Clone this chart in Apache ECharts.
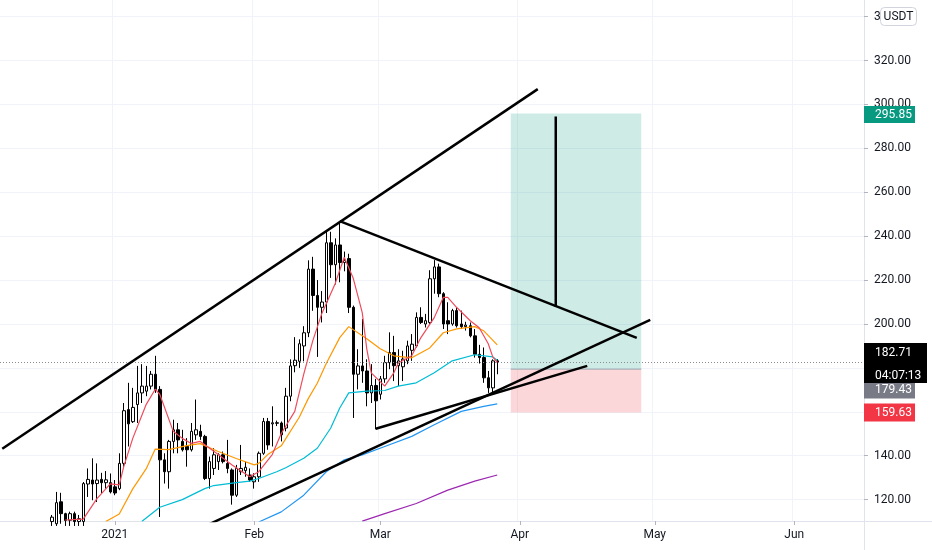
<!DOCTYPE html>
<html>
<head>
<meta charset="utf-8">
<script src="https://cdn.jsdelivr.net/npm/echarts@6/dist/echarts.min.js"></script>
<style>
html,body{margin:0;padding:0;background:#ffffff;}
#chart{width:932px;height:550px;}
</style>
</head>
<body>
<div id="chart"></div>
<script>
// ---------- DATA ----------
const firstDay = [2020, 11, 7];      // Dec 7, 2020 (first category)
const dayCount = 192;                 // daily categories on the time axis
const monthNames = ['Jan','Feb','Mar','Apr','May','Jun','Jul','Aug','Sep','Oct','Nov','Dec'];
const yTicks = [120,140,160,180,200,220,240,260,280,300,320,340];
const yRange = [110.25, 347.6];

// daily candles [open, close, low, high], first one on candleStart
const candleStart = '2020-12-18';
const ohlc = [
  [110,112,108,113],[109,118.6,108,123.5],[119,113.6,109,123.1],[113.6,110.5,108,114],
  [110.6,113.6,108,114.5],[113.6,110,108,114.5],[110,111.3,108,113],[110,127.3,108,128],
  [127.1,129.2,121.2,134.2],[128.9,127.1,119.7,138.8],[127.3,128.9,118.9,136.5],[129.2,127.7,122.8,132.2],
  [127.7,129.0,125,133],[127.7,123.5,122.8,131.9],[125.8,123,122,128.9],[125.0,136.5,124.3,141.1],
  [136.5,160.5,135,164.0],[161.0,154.5,144.2,173.2],[155.5,162,154.9,170.9],[163.3,168.6,154.9,180.9],
  [168.6,171.7,164.0,181.7],[169.4,171.7,167.1,180.9],[171.7,177.1,170.2,178.6],[177.1,170.2,168.6,185.5],
  [170.2,138.1,112.1,171.7],[138.1,132.7,127.3,141.1],[132.7,146.5,125.0,147.2],[146.5,151.8,141.1,156.4],
  [151.8,147.2,141.1,154.9],[146.5,142.7,141.9,151.8],[144.2,142.7,135.0,148.0],[142.7,151.1,141.9,154.9],
  [149.5,151.8,147.2,165.6],[151.1,148.8,147.2,154.1],[148.8,129.6,128.9,149.5],[129.6,137.3,125.0,139.6],
  [134.2,140.4,131.2,143.4],[137.3,140.4,133.5,141.1],[140.4,137.3,136.5,141.9],[136.5,134.2,132.0,147.2],
  [133.5,122.0,117.7,134.2],[122.0,134.2,121.2,135.8],[132.7,134.2,131.2,144.9],[133.2,134.7,130.4,137.3],
  [131.2,128.9,128.1,134.2],[128.1,130.4,125.0,132.0],[130.4,141.1,128.1,141.9],[141.1,155.6,140.4,157.2],
  [155.6,144.9,142.7,157.2],[154.5,155.0,144.2,162.5],[155,154.8,153.5,156],[154.9,149.5,146.5,155.6],
  [152.6,167.1,151.1,170.9],[167.1,180.9,164.8,183.9],[181,183.5,178,194],[183,191,180,193],
  [190,196,183,199],[196,225,194,229],[225,213,206,230.6],[213,207.6,185,220],
  [207.6,210,200.7,215],[210,237,205,242],[237,227,221,242],[227,236,218,239],
  [236,228,219,246.3],[228,229,224,233],[229.8,207.6,205,232],[207.6,177.1,157.2,208.4],
  [177.1,180.9,170.2,188.5],[180.9,178.6,173.2,202.3],[178.6,168.6,162.5,183.9],[168.6,172,164,181.7],
  [172,165,152,175],[168,175,165.6,176.3],[175,182.4,173.2,185.5],[182.4,187,179.4,196.2],
  [187,181,174,194.6],[181,183.2,171.7,188.5],[180.5,184,174,187.8],[183.2,190,181.7,192.4],
  [188,190.8,183.2,195.4],[190,203,189.3,205.3],[203,200.7,200,207.6],[200,201.5,198.4,204.6],
  [200.7,220.6,200,224.5],[220.6,226,213.8,229.1],[226,213.8,212.2,227.5],[213.8,200,197.7,214.5],
  [201.5,200,195.4,209.9],[200,206.1,199.2,206.9],[206.1,199.2,198.4,207.6],[200,198.8,197.7,206.1],
  [198.8,199.5,197,201],[199.2,194.6,193.9,200.7],[194.6,186.2,184.7,197.7],[186.2,184.7,182,190.5],
  [184.7,175.5,173.2,189.3],[175.5,170.9,168.6,178.6],[170.9,183.2,168.6,183.9],[183.2,182.71,177.1,184]
];

// moving averages: [date, value]
const maRed = [
  ['2020-12-21',110.7],['2020-12-25',111.1],['2020-12-28',120.3],['2020-12-31',127.2],['2021-01-02',126.7],
  ['2021-01-03',135.0],['2021-01-05',147.9],['2021-01-08',163.4],['2021-01-10',170.3],['2021-01-11',168.0],
  ['2021-01-14',151.1],['2021-01-16',147.9],['2021-01-18',145.6],['2021-01-20',146.5],['2021-01-24',140.5],
  ['2021-01-27',135.9],['2021-01-31',130.4],['2021-02-02',132.7],['2021-02-05',140.5],['2021-02-07',150.1],
  ['2021-02-10',160.2],['2021-02-12',177.2],['2021-02-14',192.3],['2021-02-16',204.7],['2021-02-19',218.5],
  ['2021-02-20',224.5],['2021-02-21',230.4],['2021-02-23',220.8],['2021-02-25',205.2],['2021-02-26',188.7],
  ['2021-02-27',177.7],['2021-03-02',171.7],['2021-03-04',177.7],['2021-03-05',182.2],['2021-03-08',185.5],
  ['2021-03-10',193.7],['2021-03-13',202.9],['2021-03-15',212.1],['2021-03-16',212.1],['2021-03-18',207.5],
  ['2021-03-21',201.5],['2021-03-23',198.3],['2021-03-25',191.0],['2021-03-26',185.0],['2021-03-27',182.5]
];
const maOrange = [
  ['2020-12-30',110],['2021-01-02',113.4],['2021-01-05',124.9],['2021-01-08',134.1],['2021-01-10',143.0],
  ['2021-01-13',142.8],['2021-01-17',144.6],['2021-01-20',145.5],['2021-01-24',141.9],['2021-01-28',138.7],
  ['2021-02-01',135.8],['2021-02-02',136.5],['2021-02-04',140.5],['2021-02-07',144.5],['2021-02-11',157.5],
  ['2021-02-13',166],['2021-02-15',173],['2021-02-17',182],['2021-02-20',193.8],['2021-02-22',198.8],
  ['2021-02-26',193.3],['2021-03-01',188.7],['2021-03-04',185.5],['2021-03-08',184.6],['2021-03-12',189.1],
  ['2021-03-15',196.0],['2021-03-18',197.8],['2021-03-22',198.8],['2021-03-24',196.9],['2021-03-27',190.5]
];
const maCyan = [
  ['2021-01-07',110],['2021-01-11',116.5],['2021-01-16',120],['2021-01-21',125],['2021-01-23',126.4],
  ['2021-01-28',127.7],['2021-01-31',128.4],['2021-02-02',129.6],['2021-02-06',132.7],['2021-02-08',134.5],
  ['2021-02-12',138.8],['2021-02-15',143.4],['2021-02-18',152.6],['2021-02-20',161.7],['2021-02-22',168.6],
  ['2021-02-26',169.4],['2021-03-02',169.7],['2021-03-05',171.7],['2021-03-09',173.2],['2021-03-13',177.8],
  ['2021-03-17',183.2],['2021-03-22',186.0],['2021-03-26',185.0],['2021-03-27',183.5]
];
const maBlue = [
  ['2021-02-02',109.8],['2021-02-07',114.4],['2021-02-12',122.0],['2021-02-17',132.7],['2021-02-21',138.1],
  ['2021-02-25',140.4],['2021-03-02',144.2],['2021-03-08',148.8],['2021-03-13',154.1],['2021-03-19',160.2],
  ['2021-03-24',162.5],['2021-03-27',163.6]
];
const maPurple = [
  ['2021-02-25',110.2],['2021-03-02',113.6],['2021-03-09',118.2],['2021-03-16',124.3],['2021-03-22',128.4],
  ['2021-03-27',131.2]
];

// hand-drawn trend lines: two end points each
const trendLines = [
  [['2020-12-07',143.2],['2021-04-05',307.0]],
  [['2021-02-20',246.9],['2021-04-27',193.7]],
  [['2021-01-22',108.8],['2021-04-30',201.9]],
  [['2021-02-28',152.3],['2021-04-16',180.9]],
  [['2021-04-09',294.5],['2021-04-09',207.9]]
];

// long position tool
const posFrom = '2021-03-30';
const posTo = '2021-04-28';
const posTarget = 295.85;
const posEntry = 179.43;
const posStop = 159.63;
const lastPrice = 182.71;
const countdown = '04:07:13';
const quote = 'USDT';

// ---------- BUILD ----------
function buildCategories() {
  const out = [];
  const t0 = Date.UTC(firstDay[0], firstDay[1], firstDay[2]);
  for (let i = 0; i < dayCount; i++) {
    out.push(new Date(t0 + i * 86400000).toISOString().slice(0, 10));
  }
  return out;
}
const categories = buildCategories();
const s0 = categories.indexOf(candleStart);
const candleData = ohlc.map((r, k) => [categories[s0 + k], r[0], r[1], r[2], r[3]]);

const isMonthStart = (idx, val) => val.slice(8) === '01';
const FONT = 'Roboto, "Open Sans", sans-serif';
const TXT = '#131722';
const GRIDC = '#f0f3fa';
const AXC = '#e0e3eb';

function maSeries(data, color) {
  return {
    type: 'line', data: data, symbol: 'none', showSymbol: false, smooth: false,
    lineStyle: { color: color, width: 1.2 }, z: 3, silent: true
  };
}

const series = [
  {
    type: 'candlestick',
    data: candleData,
    encode: { x: 0, y: [1, 2, 3, 4] },
    barWidth: 3,
    itemStyle: { color: '#ffffff', color0: '#000000', borderColor: '#000000', borderColor0: '#000000', borderWidth: 1 },
    z: 2,
    markLine: {
      silent: true, symbol: ['none', 'none'], label: { show: false },
      lineStyle: { color: '#8a8d96', type: [1, 2], width: 1 },
      data: [{ yAxis: lastPrice }]
    }
  },
  maSeries(maPurple, '#9c27b0'),
  maSeries(maBlue, '#2196f3'),
  maSeries(maCyan, '#00bcd4'),
  maSeries(maOrange, '#ff9800'),
  maSeries(maRed, '#f04b5c'),
  {
    type: 'line', symbol: 'none', silent: true, z: 1,
    data: [[posFrom, posEntry], [posTo, posEntry]],
    lineStyle: { color: '#a3a6af', width: 1 },
    markArea: {
      silent: true,
      data: [
        [{ xAxis: posFrom, yAxis: posEntry, itemStyle: { color: 'rgba(8,153,129,0.2)' } }, { xAxis: posTo, yAxis: posTarget }],
        [{ xAxis: posFrom, yAxis: posStop, itemStyle: { color: 'rgba(242,54,69,0.2)' } }, { xAxis: posTo, yAxis: posEntry }]
      ]
    }
  }
];
trendLines.forEach(seg => {
  series.push({
    type: 'line', data: seg, symbol: 'none', silent: true, z: 5,
    lineStyle: { color: '#000000', width: 2.5 }
  });
});

const chart = echarts.init(document.getElementById('chart'), null, { renderer: 'canvas' });
chart.setOption({
  animation: false,
  backgroundColor: '#ffffff',
  textStyle: { fontFamily: FONT },
  grid: { left: 0, right: 68, top: 0, bottom: 29, containLabel: false },
  xAxis: {
    type: 'category',
    data: categories,
    boundaryGap: true,
    axisLine: { show: true, lineStyle: { color: AXC } },
    axisTick: { show: true, interval: isMonthStart, alignWithLabel: true, length: 4, lineStyle: { color: '#b2b5be' } },
    axisLabel: {
      interval: isMonthStart, margin: 8, color: TXT, fontSize: 12, fontFamily: FONT,
      formatter: v => (v.slice(5, 7) === '01' ? v.slice(0, 4) : monthNames[parseInt(v.slice(5, 7), 10) - 1])
    },
    splitLine: { show: true, interval: isMonthStart, lineStyle: { color: GRIDC, width: 1 } }
  },
  yAxis: {
    type: 'value',
    position: 'right',
    min: yRange[0], max: yRange[1],
    axisLine: { show: true, lineStyle: { color: AXC } },
    axisTick: { show: true, inside: false, length: 4, customValues: yTicks, lineStyle: { color: '#b2b5be' } },
    axisLabel: { customValues: yTicks, margin: 10, color: TXT, fontSize: 12, fontFamily: FONT, formatter: v => v.toFixed(2) },
    splitLine: { show: true, lineStyle: { color: GRIDC, width: 1 } }
  },
  series: series
});

// price labels on the price scale, placed through the y scale
function yPix(v) { return chart.convertToPixel({ yAxisIndex: 0 }, v); }
const axX = 864;
function priceTag(v, bg, dy, h, w) {
  const y = yPix(v) + dy;
  return [
    { type: 'rect', shape: { x: axX, y: y - h / 2, width: w, height: h }, style: { fill: bg }, z: 100 },
    { type: 'text', x: axX + 11, y: y, style: { text: v.toFixed(2), fill: '#ffffff', font: '12px ' + FONT, verticalAlign: 'middle', textVerticalAlign: 'middle' }, z: 101 }
  ];
}
const yLast = yPix(lastPrice);
const graphics = [].concat(
  priceTag(posTarget, '#089981', 1, 17, 51),
  priceTag(posEntry, '#787b86', 21.3, 16, 51),
  priceTag(posStop, '#f23645', 0, 18, 51),
  [
    { type: 'rect', shape: { x: axX, y: yLast - 19, width: 63, height: 40 }, style: { fill: '#000000' }, z: 102 },
    { type: 'text', x: axX + 11, y: yLast - 9, style: { text: lastPrice.toFixed(2), fill: '#ffffff', font: '12px ' + FONT, verticalAlign: 'middle', textVerticalAlign: 'middle' }, z: 103 },
    { type: 'text', x: axX + 11, y: yLast + 14, style: { text: countdown, fill: '#ffffff', font: '12px ' + FONT, verticalAlign: 'middle', textVerticalAlign: 'middle' }, z: 103 },
    { type: 'rect', shape: { x: 880.5, y: 7.5, width: 36, height: 18, r: 4 }, style: { fill: '#ffffff', stroke: '#d1d4dc', lineWidth: 1 }, z: 104 },
    { type: 'text', x: 898.5, y: 16.5, style: { text: quote, fill: TXT, font: '12px ' + FONT, align: 'center', textAlign: 'center', verticalAlign: 'middle', textVerticalAlign: 'middle' }, z: 105 },
    { type: 'line', shape: { x1: 864.5, y1: 521, x2: 864.5, y2: 550 }, style: { stroke: AXC, lineWidth: 1 }, z: 50 },
    { type: 'line', shape: { x1: 864, y1: 521.5, x2: 932, y2: 521.5 }, style: { stroke: AXC, lineWidth: 1 }, z: 50 }
  ]
);
chart.setOption({ graphic: graphics });
</script>
</body>
</html>
